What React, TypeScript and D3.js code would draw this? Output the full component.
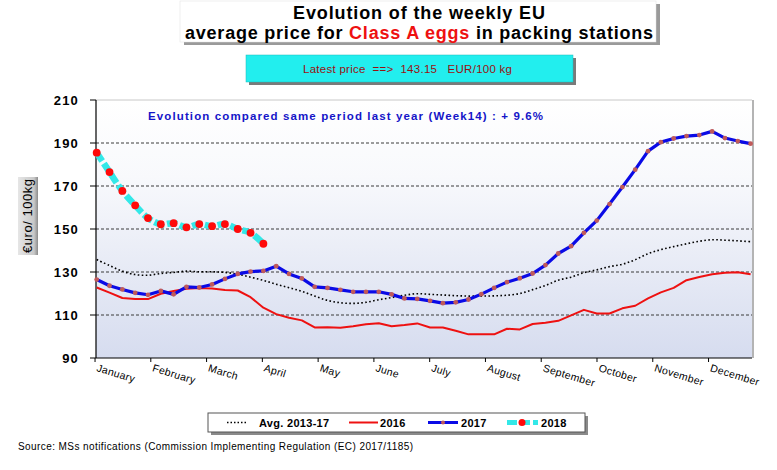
import React from 'react';
import * as d3 from 'd3';

const months = ['January', 'February', 'March', 'April', 'May', 'June', 'July', 'August', 'September', 'October', 'November', 'December'];
const yTicks = [90, 110, 130, 150, 170, 190, 210];
const gridValues = [110, 130, 150, 170, 190];

const avg1317 = [135.8, 133, 130.4, 128.8, 128.5, 129.3, 129.8, 130.4, 130.1, 130.1,
  129.8, 129, 127.6, 126.1, 124.3, 122.7, 121, 118.8, 116.8, 115.7,
  115.4, 115.9, 117.1, 118.1, 119.2, 119.9, 119.6, 119.3, 119, 118.8,
  118.8, 118.9, 119.2, 120, 121.8, 123.7, 126.2, 127.6, 129.7, 131,
  132.5, 133.6, 135.7, 138.5, 140.4, 141.8, 143.1, 144.3, 145, 144.8,
  144.5, 144.1];
const y2016 = [122.8, 120.4, 117.9, 117.4, 117.4, 119.9, 121.2, 122.2, 122.5, 122.3,
  121.6, 121.4, 118.3, 113.4, 110.4, 108.7, 107.5, 104.2, 104.3, 104.1,
  104.8, 105.7, 106.2, 104.8, 105.3, 106.1, 104.2, 104.2, 102.7, 101,
  101, 101, 103.6, 103.3, 105.8, 106.4, 107.3, 109.8, 112.4, 110.7,
  110.7, 113.1, 114.3, 117.7, 120.5, 122.6, 126.2, 127.7, 129, 129.6,
  129.9, 129];
const y2017 = [126.5, 123.6, 121.9, 120.3, 119.4, 121.2, 119.6, 123.1, 122.8, 124.2,
  126.8, 129.1, 130.2, 130.5, 132.7, 129.1, 127, 123.1, 122.6, 121.7,
  120.8, 120.8, 120.8, 119.6, 117.7, 117.5, 116.6, 115.5, 115.9, 117.2,
  119.7, 122.6, 125.3, 127.1, 129.3, 133.2, 138.6, 142, 148.2, 153.9,
  161.6, 169.5, 177.6, 186.2, 190.4, 192.1, 193.2, 193.7, 195.4, 192.3,
  190.9, 189.7];
const y2018 = [185.5, 176.5, 167.7, 161, 155.1, 152.2, 152.7, 150.8, 152.3, 151.3, 152.3, 150, 148.2, 143.15];

const FONT = "'Liberation Sans', Arial, sans-serif";

export default function App() {
  const left = 96, right = 752, top = 100, bottom = 358;
  const x = d3.scaleLinear().domain([1, 52]).range([96.7, 750.6]);
  const y = d3.scaleLinear().domain([90, 210]).range([bottom, top]);
  const monthTick = (k: number) => x(1 + k * 4.35 - 0.13);

  const pts = (arr: number[]) => arr.map((v, i) => [x(i + 1), y(v)] as [number, number]);
  const lineLin = d3.line();
  const lineSmooth = d3.line().curve(d3.curveCatmullRom.alpha(0.5));

  return (
    <svg width={777} height={470} style={{ position: 'absolute', left: 0, top: 0, background: '#fff' }} fontFamily={FONT}>
      <defs>
        <linearGradient id="plotBg" x1="0" y1="0" x2="0" y2="1">
          <stop offset="0" stopColor="#ffffff" />
          <stop offset="0.3" stopColor="#f8f9fc" />
          <stop offset="1" stopColor="#d6dcef" />
        </linearGradient>
        <linearGradient id="ylabBg" x1="0" y1="0" x2="1" y2="0">
          <stop offset="0" stopColor="#e6e6e6" />
          <stop offset="0.8" stopColor="#c8c8c8" />
          <stop offset="1" stopColor="#8c8c8c" />
        </linearGradient>
      </defs>
      <rect x={0} y={0} width={777} height={470} fill="#fff" />

      {/* Title box */}
      <rect x={184} y={4} width={476} height={41} fill="#9a9a9a" />
      <rect x={180} y={1} width={476} height={41} fill="#fff" stroke="#e0e0e0" strokeWidth={0.5} />
      <text x={419} y={18.5} textAnchor="middle" fontSize={18} fontWeight="bold" fill="#000" textLength={252} lengthAdjust="spacing">Evolution of the weekly EU</text>
      <text x={419} y={39} textAnchor="middle" fontSize={18} fontWeight="bold" fill="#000" textLength={468} lengthAdjust="spacing">
        average price for <tspan fill="#ee1111">Class A eggs</tspan> in packing stations
      </text>

      {/* Latest price box */}
      <rect x={249} y={58} width={327} height={27} fill="#7a7a7a" />
      <rect x={246} y={55} width={327} height={27} fill="#22eeee" stroke="#1bbcbc" strokeWidth={0.5} />
      <text x={303} y={73} fontSize={11.5} fill="#9a1010" textLength={209} lengthAdjust="spacing" style={{ whiteSpace: 'pre' }}>{'Latest price  ==>  143.15   EUR/100 kg'}</text>

      {/* Plot background */}
      <rect x={left} y={top} width={right - left} height={bottom - top} fill="url(#plotBg)" />
      <line x1={left} x2={right} y1={top} y2={top} stroke="#c8c8c8" strokeWidth={1} />
      <line x1={right + 1} x2={right + 1} y1={top} y2={bottom} stroke="#b4b4b4" strokeWidth={2} />

      {/* Grid */}
      {gridValues.map(v => (
        <line key={v} x1={left} x2={right} y1={y(v)} y2={y(v)} stroke="#3a3a3a" strokeWidth={1} strokeDasharray="3,2" />
      ))}

      {/* Axes */}
      <line x1={left} x2={left} y1={top} y2={bottom} stroke="#000" strokeWidth={1.2} />
      <line x1={left} x2={right} y1={bottom} y2={bottom} stroke="#000" strokeWidth={1.2} />
      {yTicks.map(v => (
        <g key={v}>
          <line x1={left - 6} x2={left} y1={y(v)} y2={y(v)} stroke="#000" />
          <text x={79} y={y(v) + 4.5} textAnchor="end" fontSize={13} fontWeight="bold" letterSpacing={1.2}>{v}</text>
        </g>
      ))}
      {months.map((m, k) => (
        <g key={m}>
          <line x1={monthTick(k)} x2={monthTick(k)} y1={bottom} y2={bottom + 4} stroke="#000" />
          <text transform={`translate(${monthTick(k) + 1},${371}) rotate(17)`} fontSize={10.5} letterSpacing={0.3}>{m}</text>
        </g>
      ))}

      {/* Y label */}
      <rect x={18} y={177} width={20} height={78} fill="url(#ylabBg)" />
      <text transform="translate(32,216) rotate(-90)" textAnchor="middle" fontSize={13} textLength={74} lengthAdjust="spacing">€uro/ 100kg</text>

      {/* Annotation */}
      <text x={148} y={120} fontSize={11.5} fontWeight="bold" fill="#1515c8" textLength={395} lengthAdjust="spacing">Evolution compared same period last year (Week14) : + 9.6%</text>

      {/* Series */}
      <path d={lineSmooth(pts(avg1317)) || ''} fill="none" stroke="#000" strokeWidth={1.6} strokeDasharray="1.6,2.4" />
      <path d={lineLin(pts(y2016)) || ''} fill="none" stroke="#ee1111" strokeWidth={2} strokeLinejoin="round" />
      <path d={lineLin(pts(y2017)) || ''} fill="none" stroke="#0a0ae6" strokeWidth={3.2} strokeLinejoin="round" />
      {pts(y2017).map(([px, py], i) => (
        <circle key={i} cx={px} cy={py} r={2.4} fill="#c05a5a" />
      ))}
      <path d={lineSmooth(pts(y2018)) || ''} fill="none" stroke="#33e8e8" strokeWidth={6.5} strokeDasharray="10,3" />
      {pts(y2018).map(([px, py], i) => (
        <circle key={i} cx={px} cy={py} r={3.9} fill="#ff0a0a" />
      ))}

      {/* Legend */}
      <rect x={211} y={416} width={377} height={19} fill="#8a8a8a" />
      <rect x={208} y={413} width={377} height={19} fill="#fff" stroke="#555" strokeWidth={1} />
      <line x1={227} x2={248} y1={422.5} y2={422.5} stroke="#000" strokeWidth={1.4} strokeDasharray="1.5,2" />
      <text x={259} y={426.5} fontSize={11} fontWeight="bold" letterSpacing={0.3}>Avg. 2013-17</text>
      <line x1={349} x2={378} y1={422.5} y2={422.5} stroke="#ee1111" strokeWidth={2} />
      <text x={380} y={426.5} fontSize={11} fontWeight="bold" letterSpacing={0.3}>2016</text>
      <line x1={428} x2={458} y1={422.5} y2={422.5} stroke="#0a0ae6" strokeWidth={3} />
      <circle cx={443} cy={422.5} r={2} fill="#c05a5a" />
      <text x={461} y={426.5} fontSize={11} fontWeight="bold" letterSpacing={0.3}>2017</text>
      <line x1={507} x2={538} y1={422.5} y2={422.5} stroke="#33e8e8" strokeWidth={5} strokeDasharray="10,3" />
      <circle cx={522} cy={422.5} r={3.5} fill="#ff0a0a" />
      <text x={541} y={426.5} fontSize={11} fontWeight="bold" letterSpacing={0.3}>2018</text>

      {/* Source */}
      <text x={18} y={450} fontSize={10} fill="#000" textLength={395} lengthAdjust="spacing">Source: MSs notifications (Commission Implementing Regulation (EC) 2017/1185)</text>
    </svg>
  );
}
